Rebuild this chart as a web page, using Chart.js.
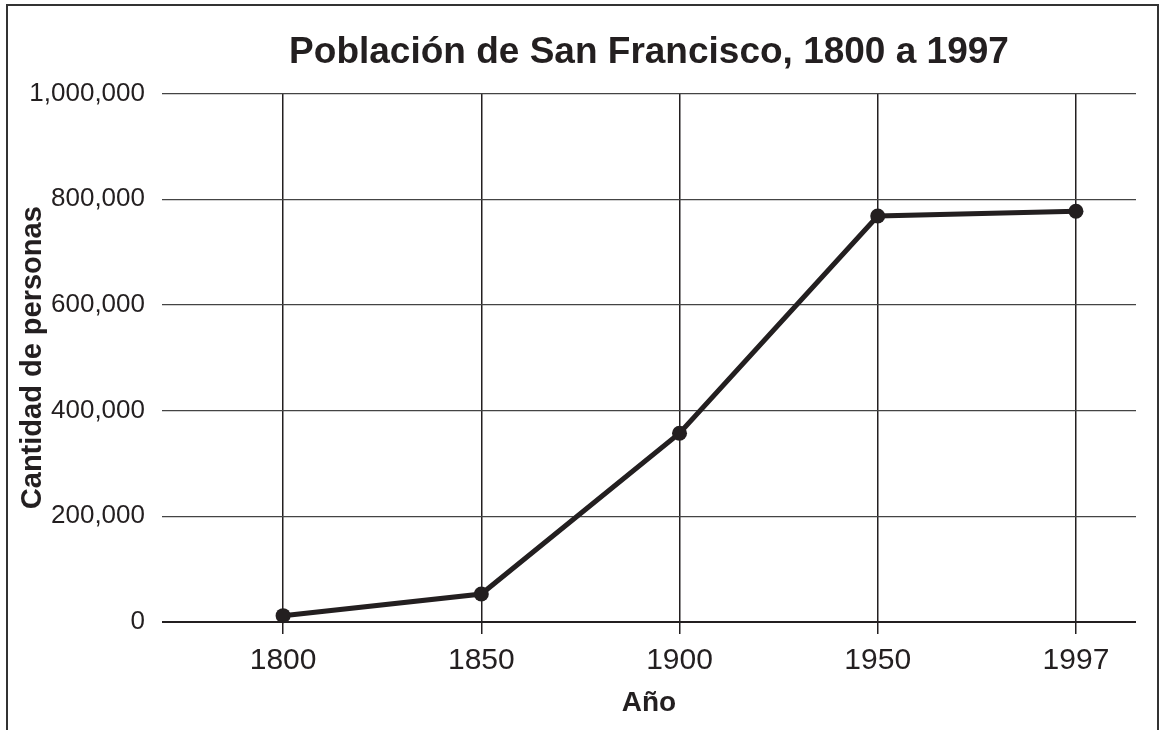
<!DOCTYPE html>
<html>
<head>
<meta charset="utf-8">
<script src="https://cdn.jsdelivr.net/npm/chart.js@4"></script>
<style>
    body { margin: 0; background: #fff; }
    #wrap { position: relative; width: 1164px; height: 730px; overflow: hidden; }
    #frame {
        position: absolute; left: 6px; top: 4px; width: 1153px; height: 800px;
        box-sizing: border-box; border: 2px solid #333; pointer-events: none;
    }
</style>
</head>
<body>
<div id="wrap">
    <canvas id="chartPoblacion"></canvas>
    <div id="frame"></div>
</div>
<script>
    // Datos
    const years = ['1800', '1850', '1900', '1950', '1997'];
    const population = [12000, 53000, 357000, 768000, 777000];
    const yTicks = [0, 200000, 400000, 600000, 800000, 1000000];

    const ink = '#231f20';
    const fontFamily = '"Liberation Sans", Arial, Helvetica, sans-serif';

    const ctx = document.getElementById('chartPoblacion').getContext('2d');
    new Chart(ctx, {
        type: 'line',
        data: {
            datasets: [{
                label: 'Población',
                data: years.map((y, i) => ({ x: i, y: population[i] })),
                borderColor: ink,
                backgroundColor: ink,
                borderWidth: 5,
                pointRadius: 7.5,
                pointBorderWidth: 0,
                pointBackgroundColor: ink,
                tension: 0,
                fill: false,
                clip: false,
            }]
        },
        options: {
            responsive: true,
            maintainAspectRatio: false,
            animation: false,
            layout: { padding: { left: 0, right: 28, top: 0, bottom: 0 } },
            plugins: {
                legend: { display: false },
                tooltip: { enabled: false },
                title: {
                    display: true,
                    fullSize: false,
                    text: 'Población de San Francisco, 1800 a 1997',
                    color: ink,
                    font: { family: fontFamily, size: 37, weight: 'bold' },
                    padding: { top: 31, bottom: 18 },
                },
            },
            scales: {
                x: {
                    type: 'linear',
                    min: -0.611,
                    max: 4.303,
                    afterBuildTicks: (s) => { s.ticks = years.map((y, i) => ({ value: i })); },
                    afterFit: (s) => { s.height = 108; },
                    border: { display: false },
                    grid: {
                        color: ink,
                        lineWidth: 1.5,
                        tickLength: 12,
                        drawOnChartArea: true,
                    },
                    ticks: {
                        color: ink,
                        font: { family: fontFamily, size: 30 },
                        padding: 9,
                        maxRotation: 0,
                        callback: (v) => years[v],
                    },
                    title: {
                        display: true,
                        text: 'Año',
                        color: ink,
                        font: { family: fontFamily, size: 28, weight: 'bold' },
                        padding: { top: 10, bottom: 10 },
                    },
                },
                y: {
                    min: 0,
                    max: 1000000,
                    afterBuildTicks: (s) => { s.ticks = yTicks.map(v => ({ value: v })); },
                    afterFit: (s) => { s.width = 162; },
                    border: { display: false },
                    grid: {
                        color: (c) => c.tick && c.tick.value === 0 ? ink : '#444',
                        lineWidth: (c) => c.tick && c.tick.value === 0 ? 2 : 1.2,
                        drawTicks: false,
                    },
                    ticks: {
                        color: ink,
                        font: { family: fontFamily, size: 26 },
                        padding: 17,
                        callback: (v) => v.toLocaleString('en-US'),
                    },
                    title: {
                        display: true,
                        text: 'Cantidad de personas',
                        color: ink,
                        font: { family: fontFamily, size: 29, weight: 'bold' },
                        padding: { top: 16, bottom: 16 },
                    },
                },
            },
        },
    });
</script>
</body>
</html>
